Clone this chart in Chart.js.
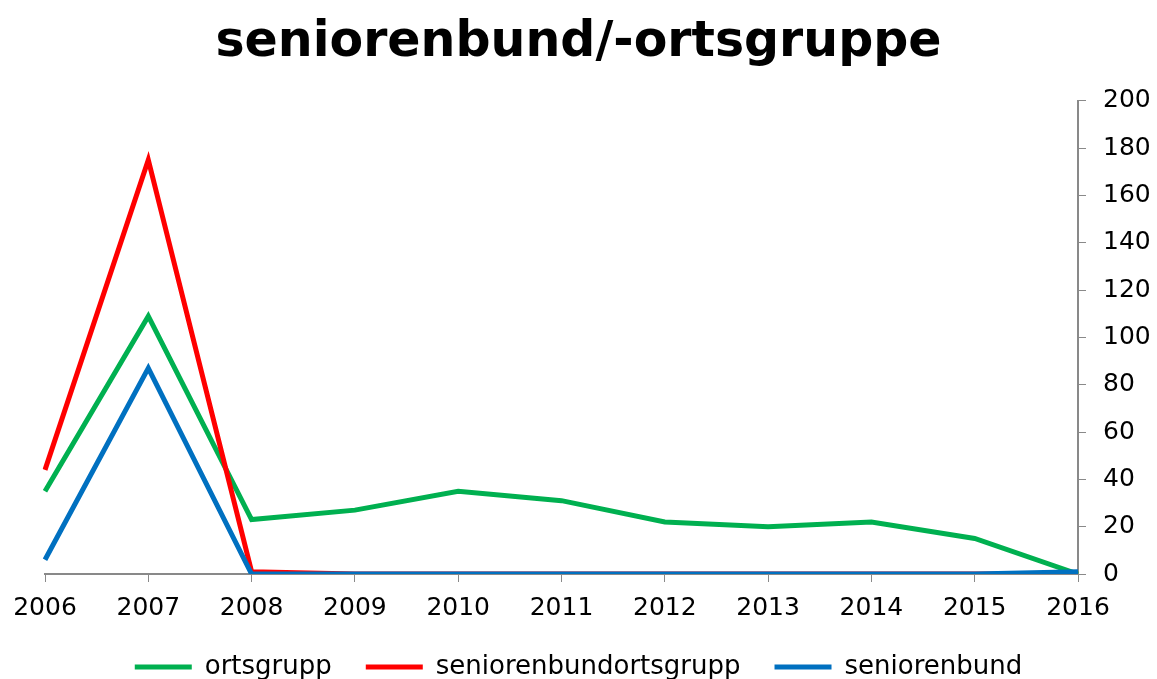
<!DOCTYPE html>
<html>
<head>
<meta charset="utf-8">
<script src="https://cdn.jsdelivr.net/npm/chart.js@4"></script>
<style>
  html, body { margin: 0; padding: 0; background: #fff; }
  #wrap { width: 1157px; height: 679px; position: relative; }
</style>
</head>
<body>
<div id="wrap"><canvas id="c"></canvas></div>
<script>
const years = ["2006", "2007", "2008", "2009", "2010", "2011", "2012", "2013", "2014", "2015", "2016"];
const ortsgrupp = [35, 109, 23, 27, 35, 31, 22, 20, 22, 15, 0];
const seniorenbundortsgrupp = [44, 175, 1, 0, 0, 0, 0, 0, 0, 0, 0];
const seniorenbund = [6, 87, 0, 0, 0, 0, 0, 0, 0, 0, 1];
const yTicks = [0, 20, 40, 60, 80, 100, 120, 140, 160, 180, 200];

Chart.defaults.font.family = "'DejaVu Sans', Verdana, sans-serif";
Chart.defaults.color = "#000";

// later series are painted on top, as in the original
const line = (label, data, color, order) => ({
    label, data, order,
    borderColor: color,
    backgroundColor: color,
    borderWidth: 5,
    pointRadius: 0,
    tension: 0,
    yAxisID: "y"
});

new Chart(document.getElementById("c"), {
    type: "line",
    data: {
        labels: years,
        datasets: [
            line("ortsgrupp", ortsgrupp, "#00b050", 3),
            line("seniorenbundortsgrupp", seniorenbundortsgrupp, "#ff0000", 2),
            line("seniorenbund", seniorenbund, "#0070c0", 1)
        ]
    },
    options: {
        responsive: true,
        maintainAspectRatio: false,
        animation: false,
        layout: { padding: { left: 0, right: 0, top: 8, bottom: -11 } },
        plugins: {
            title: {
                display: true,
                text: "seniorenbund/-ortsgruppe",
                font: { size: 49, weight: "bold" },
                color: "#000",
                padding: { top: 6, bottom: 28 }
            },
            legend: {
                position: "bottom",
                labels: {
                    usePointStyle: true,
                    pointStyle: "line",
                    pointStyleWidth: 57,
                    font: { size: 26 },
                    padding: 34,
                    boxHeight: 5,
                    sort: (a, b) => a.datasetIndex - b.datasetIndex
                }
            },
            tooltip: { enabled: false }
        },
        scales: {
            x: {
                offset: false,
                afterFit: (axis) => { axis.height = 46; },
                grid: {
                    display: true,
                    drawOnChartArea: false,
                    drawTicks: true,
                    tickLength: 8,
                    color: "#898989"
                },
                border: { color: "#898989", width: 2 },
                ticks: { font: { size: 25 }, maxRotation: 0, padding: 11, autoSkip: false }
            },
            y: {
                position: "right",
                min: 0,
                max: 200,
                afterFit: (axis) => { axis.width = 79; },
                afterBuildTicks: (axis) => { axis.ticks = yTicks.map(v => ({ value: v })); },
                grid: {
                    display: true,
                    drawOnChartArea: false,
                    drawTicks: true,
                    tickLength: 8,
                    color: "#898989"
                },
                border: { color: "#898989", width: 2 },
                ticks: { font: { size: 25 }, padding: 17 }
            },
            spacer: {
                position: "left",
                min: 0,
                max: 1,
                afterFit: (axis) => { axis.width = 45; },
                grid: { display: false },
                border: { display: false },
                ticks: { display: false }
            }
        }
    }
});
</script>
</body>
</html>
